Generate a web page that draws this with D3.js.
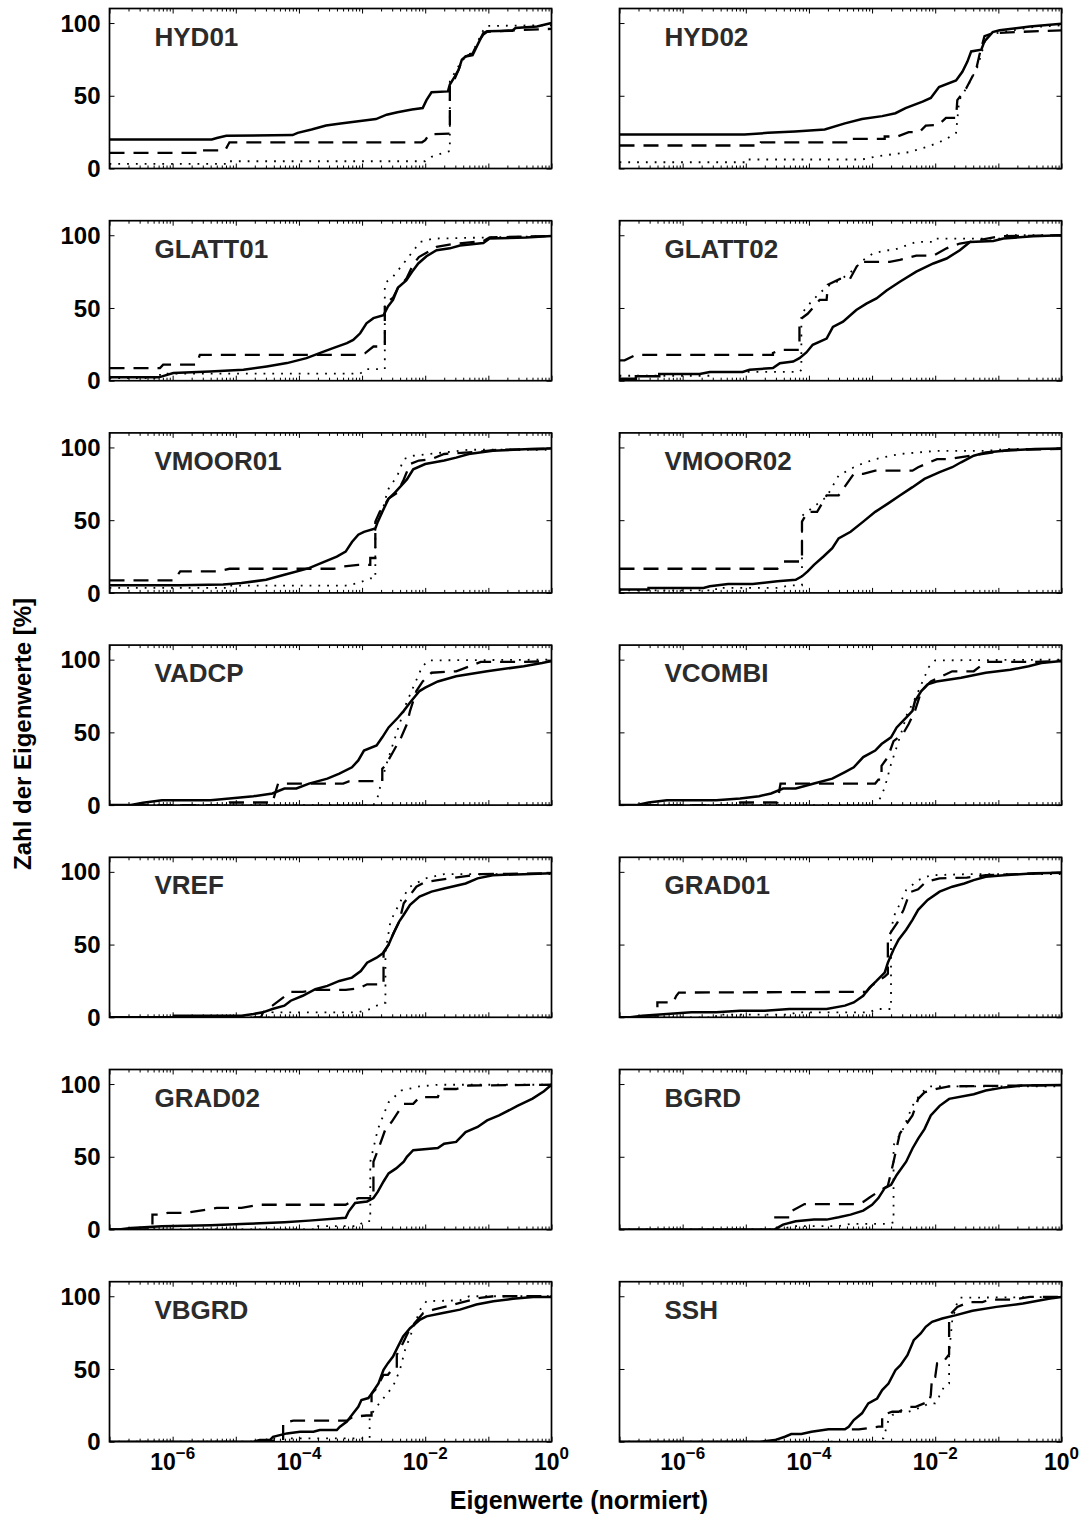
<!DOCTYPE html>
<html>
<head>
<meta charset="utf-8">
<script src="https://cdn.jsdelivr.net/npm/d3@7"></script>
<style>
  body { margin: 0; background: #fff; }
  svg { display: block; }
  text { font-family: "Liberation Sans", Arial, Helvetica, sans-serif; font-weight: bold; }
</style>
</head>
<body>
<svg id="chart" width="1087" height="1526"></svg>
<script>
// Cumulative share of eigenvalues (percent) against normalized eigenvalue.
// Each point is [log10(eigenvalue), percent].

const panelNames = ["HYD01", "HYD02", "GLATT01", "GLATT02", "VMOOR01", "VMOOR02", "VADCP",
  "VCOMBI", "VREF", "GRAD01", "GRAD02", "BGRD", "VBGRD", "SSH"];

const yTicks = [0, 50, 100];
const xLabelExps = [-6, -4, -2, 0];
const xMajorExps = [-7, -6, -5, -4, -3, -2, -1, 0];

const solid = [
  // HYD01
  [[-7,20],[-5.38,20],[-5.3,21],[-5.15,22.5],[-4.1,23],[-4.02,24.5],[-3.8,26.8],[-3.57,29.5],[-3.34,31],[-3.06,32.5],[-2.78,34],[-2.61,37],[-2.44,38.7],[-2.21,40.5],[-2.04,41.6],[-1.98,47],[-1.9,52.4],[-1.64,53],[-1.61,57.7],[-1.53,63.4],[-1.47,68],[-1.42,74.8],[-1.36,77],[-1.25,78],[-1.16,86],[-1.08,93],[-1.02,94.3],[-0.62,94.7],[-0.57,96.6],[-0.23,97.7],[0,100]],
  // HYD02
  [[-7,23.3],[-5.02,23.3],[-4.65,24.5],[-4.22,25.5],[-3.75,26.8],[-3.43,31],[-3.16,34],[-2.84,36],[-2.63,38],[-2.47,41.5],[-2.2,46],[-2.07,48.5],[-1.94,56],[-1.67,60.5],[-1.57,66.5],[-1.49,73.5],[-1.43,80.5],[-1.27,81.7],[-1.22,87.4],[-1.09,93.8],[-0.98,95],[-0.5,97.7],[0,99.5]],
  // GLATT01
  [[-7,2.3],[-6.22,2.3],[-5.99,5.3],[-5.41,6.4],[-4.88,7.5],[-4.51,9.8],[-4.19,12.1],[-3.88,15.5],[-3.61,20],[-3.46,22.4],[-3.24,25.8],[-3.14,28],[-3.03,32.6],[-2.93,39.5],[-2.82,43],[-2.66,45],[-2.59,51],[-2.51,55.5],[-2.43,64],[-2.3,69],[-2.19,76],[-2.11,80.6],[-1.98,85.6],[-1.82,89.7],[-1.61,91],[-1.45,93],[-1.08,94.7],[-0.98,97.7],[-0.4,98.4],[0,99.5]],
  // GLATT02
  [[-7,1.4],[-6.74,1.4],[-6.74,3],[-6.37,3],[-6.37,4.6],[-5.73,4.6],[-5.57,6],[-5.05,6],[-4.94,7.5],[-4.57,8.7],[-4.46,12],[-4.25,13.2],[-4.15,15.5],[-4.04,19.4],[-3.94,24.7],[-3.72,29],[-3.62,37],[-3.46,40.6],[-3.25,48.6],[-3.09,53],[-2.93,56.6],[-2.77,62],[-2.56,68],[-2.3,75],[-2.03,80.6],[-1.82,84],[-1.61,89.7],[-1.45,95.4],[-1.08,96],[-0.92,97.7],[-0.45,99.3],[0,100]],
  // VMOOR01
  [[-7,5.2],[-5.88,5.2],[-5.2,5.7],[-4.91,6.8],[-4.52,9],[-4.23,12.5],[-3.84,17],[-3.65,20.5],[-3.4,25],[-3.26,28.4],[-3.16,35],[-3.06,40],[-2.97,42],[-2.79,44.3],[-2.75,49],[-2.68,55.7],[-2.58,64.8],[-2.48,69],[-2.29,78],[-2.19,85],[-2.0,88.6],[-1.7,91],[-1.51,93],[-1.31,95.5],[-0.93,97.7],[-0.34,99],[0,99.3]],
  // VMOOR02
  [[-7,2.3],[-6.54,2.3],[-6.54,3.4],[-5.67,3.4],[-5.57,4.5],[-5.28,6.1],[-4.89,6.1],[-4.5,8],[-4.21,9],[-4.11,11.4],[-4.02,14.8],[-3.92,19.3],[-3.77,25],[-3.63,30.7],[-3.53,37.5],[-3.34,42],[-3.14,49],[-2.95,55.7],[-2.75,61.4],[-2.56,67],[-2.36,72.7],[-2.17,78.4],[-1.93,83],[-1.73,86.4],[-1.59,89.8],[-1.39,94.3],[-1.2,96.6],[-0.91,97.7],[-0.42,99],[0,99.3]],
  // VADCP
  [[-7,0],[-6.66,0],[-6.47,1.6],[-6.17,3.4],[-5.4,3.4],[-5.1,4.5],[-4.72,6.1],[-4.42,8],[-4.23,11.4],[-4.04,11.4],[-3.84,14.8],[-3.55,18.2],[-3.36,21.6],[-3.16,26],[-3.06,30.7],[-2.97,37.5],[-2.77,41],[-2.68,46.6],[-2.58,53.4],[-2.43,60.2],[-2.34,64.8],[-2.24,70.5],[-2.09,78.4],[-2.0,80.7],[-1.8,85],[-1.51,88.6],[-1.02,92],[-0.44,95.5],[-0.15,97.7],[0,99]],
  // VCOMBI
  [[-7,0],[-6.74,0],[-6.54,1.8],[-6.25,3.4],[-5.47,3.4],[-5.09,4.5],[-4.79,6.1],[-4.6,8],[-4.41,11.4],[-4.21,11.4],[-3.92,14.8],[-3.63,18.2],[-3.43,22.7],[-3.29,26],[-3.14,33],[-2.95,37.5],[-2.85,42],[-2.7,46.6],[-2.61,53.4],[-2.46,60.2],[-2.36,64.8],[-2.32,71.6],[-2.22,78.4],[-2.12,83],[-1.98,85],[-1.59,87.5],[-1.2,91],[-0.81,93],[-0.52,95.5],[-0.32,97.7],[0,99]],
  // VREF
  [[-7,0],[-5.98,0],[-5.98,1.1],[-4.91,1.1],[-4.72,2.3],[-4.57,3.4],[-4.42,5.7],[-4.23,8],[-4.13,11.4],[-3.94,14.8],[-3.74,19.3],[-3.55,21.6],[-3.36,25],[-3.16,27.3],[-3.02,31.8],[-2.92,37.5],[-2.77,41],[-2.66,44.3],[-2.58,50],[-2.5,58],[-2.41,66],[-2.34,70.5],[-2.24,77.3],[-2.09,83],[-1.9,86.4],[-1.7,88.6],[-1.36,92],[-1.17,95.5],[-0.93,97.7],[-0.44,98.4],[0,99]],
  // GRAD01
  [[-7,0],[-6.83,0],[-6.64,1.1],[-6.25,2.3],[-5.86,3.4],[-5.47,3.4],[-5.09,4.5],[-4.7,4.5],[-4.31,5.7],[-3.72,5.7],[-3.43,8],[-3.29,10.2],[-3.14,14.8],[-3.04,20.5],[-2.93,25],[-2.8,30.7],[-2.75,37.5],[-2.66,46.6],[-2.58,53.4],[-2.46,60.2],[-2.36,67],[-2.27,73.9],[-2.12,80.7],[-1.93,86.4],[-1.73,89.8],[-1.54,92],[-1.39,94.3],[-1.2,96.6],[-0.91,97.7],[-0.42,99],[0,99.3]],
  // GRAD02
  [[-7,0],[-6.85,0],[-6.66,1.1],[-6.17,2.3],[-5.4,3],[-4.81,3.9],[-4.23,5],[-3.84,6.1],[-3.26,8],[-3.21,12.5],[-3.11,18.2],[-2.92,19.3],[-2.82,21.6],[-2.75,26],[-2.66,33],[-2.58,38.6],[-2.46,42],[-2.34,46.6],[-2.29,50],[-2.19,54.5],[-1.8,56],[-1.7,59],[-1.51,60.2],[-1.36,67],[-1.17,70.5],[-1.02,75],[-0.83,78.4],[-0.54,85],[-0.3,90],[-0.12,95],[0,99.5]],
  // BGRD
  [[-7,0],[-4.55,0],[-4.5,1.1],[-4.41,3.4],[-4.21,5.7],[-3.92,6.8],[-3.72,6.8],[-3.53,8.4],[-3.34,10.2],[-3.14,13],[-3.0,17],[-2.9,21.6],[-2.8,28.4],[-2.7,30.7],[-2.61,37.5],[-2.46,46.6],[-2.36,55.7],[-2.27,62.5],[-2.17,69],[-2.07,78.4],[-1.93,85],[-1.78,89.8],[-1.39,93],[-1.2,95.5],[-0.91,97.7],[-0.62,99],[0,99.3]],
  // VBGRD
  [[-7,0],[-4.72,0],[-4.62,1.1],[-4.46,1.1],[-4.41,3.4],[-4.19,5.7],[-3.98,6.9],[-3.77,6.9],[-3.67,8],[-3.4,8],[-3.35,10.3],[-3.24,13.8],[-3.14,19.5],[-3.06,24],[-3.01,28.7],[-2.9,30],[-2.85,33],[-2.74,40],[-2.66,49.4],[-2.59,54],[-2.51,58.6],[-2.43,65.5],[-2.35,72.4],[-2.24,78],[-2.08,84],[-1.98,86.2],[-1.72,88.5],[-1.45,90.8],[-1.19,94.3],[-0.92,96.6],[-0.61,98.2],[-0.29,99.5],[0,99.5]],
  // SSH
  [[-7,0],[-4.76,0],[-4.54,1.1],[-4.38,3.4],[-4.28,5.3],[-4.12,5.3],[-3.96,6.9],[-3.69,8.5],[-3.43,8.5],[-3.37,10.3],[-3.29,14.9],[-3.16,19.5],[-3.06,26.3],[-2.92,29.7],[-2.84,35.5],[-2.74,40],[-2.63,49.2],[-2.55,52.6],[-2.44,59.5],[-2.34,69.8],[-2.23,74.4],[-2.15,79],[-2.05,82.4],[-1.89,84.7],[-1.67,87],[-1.41,90],[-1.03,92.7],[-0.61,95],[-0.18,98.4],[0,99.5]]
];

const dashed = [
  // HYD01
  [[-7,10.8],[-5.5,10.8],[-5.5,12.4],[-5.17,12.4],[-5.1,18],[-2.05,18],[-2.0,19.5],[-1.94,23.5],[-1.61,24],[-1.61,58],[-1.53,62],[-1.47,68],[-1.42,74],[-1.36,77],[-1.25,79],[-1.16,87],[-1.08,92],[-1.02,94],[-0.6,95],[0,96]],
  // HYD02
  [[-7,15.8],[-4.76,15.8],[-4.76,18],[-3.32,18],[-3.32,20.4],[-2.8,20.4],[-2.8,22],[-2.6,22],[-2.42,25],[-2.25,25],[-2.15,29.5],[-1.95,30],[-1.83,34.8],[-1.67,34.8],[-1.65,47],[-1.51,55],[-1.35,68.4],[-1.3,78],[-1.22,91],[-1.09,93],[-0.6,94],[0,95]],
  // GLATT01
  [[-7,8.7],[-6.2,8.7],[-6.15,11],[-5.62,11],[-5.57,17.8],[-3.03,17.8],[-2.95,19],[-2.82,23.5],[-2.64,23.5],[-2.64,53],[-2.51,57],[-2.43,64],[-2.3,70],[-2.19,80],[-2.1,85],[-1.98,88],[-1.82,92],[-1.56,94],[-1.08,96],[-0.98,98.5],[0,99.5]],
  // GLATT02
  [[-7,14],[-6.92,14],[-6.74,17.8],[-4.57,17.8],[-4.57,19],[-4.46,21.2],[-4.15,21.2],[-4.15,41.8],[-4.02,46],[-3.83,55.5],[-3.72,55.5],[-3.7,66],[-3.51,70],[-3.35,70],[-3.25,78],[-3.2,81.7],[-2.72,81.7],[-2.56,83],[-2.3,86],[-2.03,86],[-1.82,91],[-1.61,94.3],[-1.45,95.4],[-0.98,99.3],[0,100]],
  // VMOOR01
  [[-7,8.6],[-5.98,8.6],[-5.88,14.8],[-5.3,14.8],[-5.1,16.6],[-3.45,16.6],[-3.3,18.2],[-3.06,19.3],[-2.87,19.3],[-2.87,24],[-2.79,24],[-2.79,49],[-2.72,55.7],[-2.58,64.8],[-2.44,69],[-2.34,78],[-2.24,88.6],[-2.1,91],[-1.9,92],[-1.7,95.5],[-1.31,96.6],[-0.83,98.4],[0,99]],
  // VMOOR02
  [[-7,16.6],[-4.5,16.6],[-4.45,18.2],[-4.4,21.6],[-4.11,21.6],[-4.11,49],[-4.02,55.7],[-3.87,55.7],[-3.72,67],[-3.53,67],[-3.29,81.8],[-3.14,81.8],[-2.95,84],[-2.36,84],[-2.27,86.4],[-1.97,92],[-1.78,92],[-0.81,98.4],[0,99]],
  // VADCP
  [[-7,0],[-5.2,0],[-5.1,1.8],[-4.42,1.8],[-4.33,14.8],[-3.3,14.8],[-3.2,16.5],[-2.68,16.5],[-2.68,25],[-2.63,27.3],[-2.53,35],[-2.38,46.6],[-2.29,55.7],[-2.24,64.8],[-2.14,78.4],[-2.04,85],[-1.9,91],[-1.51,92],[-1.12,98.4],[-0.44,98.4],[0,99]],
  // VCOMBI
  [[-7,0],[-5.2,0],[-5.09,1.8],[-4.5,1.8],[-4.45,14.8],[-2.95,14.8],[-2.9,17.5],[-2.85,17.5],[-2.85,27],[-2.75,33],[-2.66,44],[-2.51,49],[-2.42,55.7],[-2.32,64.8],[-2.22,78.4],[-2.07,85],[-1.73,92],[-1.39,92],[-1.2,98.4],[-0.52,98.4],[0,99]],
  // VREF
  [[-7,0],[-4.6,0],[-4.57,3.4],[-4.42,8],[-4.13,17.5],[-3.94,17.5],[-3.74,18.9],[-3.26,18.9],[-3.06,19.8],[-2.92,22.7],[-2.66,22.7],[-2.66,45],[-2.58,50],[-2.5,58],[-2.41,66],[-2.34,78.4],[-2.14,89.8],[-2.0,93],[-1.8,94.3],[-1.12,98.4],[0,99]],
  // GRAD01
  [[-7,0],[-6.4,0],[-6.4,10.2],[-6.15,10.2],[-6.1,14.8],[-6.06,17],[-3.09,17.5],[-3.0,22],[-2.8,28],[-2.75,30],[-2.75,55],[-2.68,60],[-2.6,65],[-2.5,74],[-2.4,86],[-2.27,88],[-2.15,93],[-1.93,95.5],[-1.5,96],[-1.2,97.7],[0,99.5]],
  // GRAD02
  [[-7,0],[-6.32,0],[-6.32,10.2],[-6.17,10.2],[-6.08,11.4],[-5.79,11.4],[-5.3,14.8],[-4.91,14.8],[-4.62,17],[-3.26,17],[-3.21,18.2],[-3.06,21.6],[-2.82,21.6],[-2.82,46.6],[-2.72,58],[-2.63,69],[-2.53,74],[-2.43,80.7],[-2.34,86.4],[-2.19,86.4],[-2.09,91],[-1.8,91],[-1.75,96.6],[-1.51,96.6],[-1.31,99],[0,99.5]],
  // BGRD
  [[-4.55,8.4],[-4.3,8.4],[-4.3,12],[-4.07,17.5],[-3.24,17.5],[-3.14,19],[-3.04,22],[-2.9,26],[-2.75,30],[-2.66,46.6],[-2.56,66],[-2.36,78.4],[-2.27,89.8],[-2.17,94.3],[-1.98,96.6],[-1.78,98.4],[0,99.3]],
  // VBGRD
  [[-4.62,0.7],[-4.25,0.7],[-4.25,12.6],[-4.09,14.5],[-3.24,14.5],[-3.14,17.2],[-2.93,18],[-2.85,18],[-2.85,33],[-2.77,36.8],[-2.66,46],[-2.59,46],[-2.51,50.6],[-2.45,50.6],[-2.45,59.8],[-2.35,68],[-2.24,78],[-2.03,88.5],[-1.87,90.8],[-1.66,93],[-1.45,95.4],[-1.13,98.9],[-0.92,100],[0,100]],
  // SSH
  [[-3.32,8.5],[-3.21,8.5],[-2.9,10.3],[-2.84,10.3],[-2.84,18.3],[-2.68,20.6],[-2.58,20.6],[-2.42,24],[-2.31,24],[-2.15,26.8],[-2.1,26.8],[-2.07,32],[-2.05,44.6],[-2.0,44.6],[-1.97,53.8],[-1.89,53.8],[-1.78,60],[-1.78,83.5],[-1.75,88],[-1.65,92.7],[-1.46,96],[-1.25,96],[-1.14,97.7],[-0.77,97.7],[-0.5,99.5],[0,99.5]]
];

const dotted = [
  // HYD01
  [[-7,3.2],[-5.15,3.2],[-5.15,5],[-2.0,5],[-1.9,8],[-1.7,11],[-1.61,12],[-1.61,60],[-1.53,66],[-1.45,72],[-1.36,77],[-1.25,80],[-1.16,88],[-1.08,95],[-1.02,98],[0,98.5]],
  // HYD02
  [[-7,4.3],[-5.02,4.3],[-5.02,6.2],[-3.16,6.2],[-2.9,8.5],[-2.42,11.2],[-2.1,15.3],[-1.83,20],[-1.67,24.5],[-1.62,47],[-1.46,58.8],[-1.33,70],[-1.25,81.7],[-1.19,91],[-1.04,93],[-0.5,97],[0,98.5]],
  // GLATT01
  [[-7,1.8],[-6.2,1.8],[-6.2,4.8],[-3.03,4.8],[-2.95,8],[-2.64,8],[-2.64,67],[-2.51,71.5],[-2.3,83],[-2.08,95.4],[-1.87,97.7],[-0.98,98.5],[0,99.5]],
  // GLATT02
  [[-7,3.4],[-5.57,3.4],[-5.57,6],[-4.15,6],[-4.12,7.5],[-4.12,46],[-3.94,55.5],[-3.72,64.6],[-3.51,69],[-3.3,76],[-3.14,83],[-2.98,87.6],[-2.77,89.7],[-2.67,89.7],[-2.3,95.4],[-2.03,95.4],[-2.0,97.7],[-0.98,97.7],[-0.9,100],[0,100]],
  // VMOOR01
  [[-7,3.4],[-5.1,3.4],[-5.1,5],[-3.26,5],[-3.06,6.8],[-2.87,10],[-2.79,10],[-2.79,46.6],[-2.68,55.7],[-2.63,64.8],[-2.58,71.6],[-2.44,80.7],[-2.34,92],[-2.19,94.3],[-1.7,96.6],[-1.31,98.4],[0,98.4]],
  // VMOOR02
  [[-7,1.8],[-5.47,1.8],[-5.47,3.4],[-4.5,3.4],[-4.3,5.2],[-4.11,5.2],[-4.11,53],[-3.72,66],[-3.53,80.7],[-3.24,87.5],[-2.95,92],[-2.56,95.5],[-1.97,97.7],[-1.2,97.7],[-0.81,99],[0,99]],
  // VADCP
  [[-7,0],[-2.82,0],[-2.75,6],[-2.7,15],[-2.6,30],[-2.45,50],[-2.3,70],[-2.15,85],[-2.05,95],[-1.95,99.5],[0,100]],
  // VCOMBI
  [[-7,0],[-2.92,0],[-2.8,12],[-2.7,28],[-2.55,48],[-2.45,62],[-2.3,75],[-2.2,85],[-2.1,95],[-2.0,99.5],[0,100]],
  // VREF
  [[-7,0],[-4.42,0],[-4.42,3.4],[-3.06,3.4],[-2.87,5.7],[-2.68,10],[-2.63,10],[-2.63,45],[-2.55,66],[-2.38,80.7],[-2.24,89.8],[-2.0,95.5],[-1.7,98.4],[0,98.4]],
  // GRAD01
  [[-7,0],[-5.47,0],[-5.47,1.8],[-4.31,1.8],[-4.2,3.4],[-3.04,3.4],[-2.93,5.7],[-2.7,5.7],[-2.7,58],[-2.66,69],[-2.56,78],[-2.46,87.5],[-2.27,94.3],[-2.07,97.7],[-1.5,98.4],[0,98.4]],
  // GRAD02
  [[-7,0],[-3.74,0],[-3.74,2.3],[-3.06,2.3],[-2.97,5.7],[-2.87,5.7],[-2.87,46.6],[-2.75,69],[-2.58,87.5],[-2.38,95.5],[-2.09,98.4],[-1.8,99.5],[0,99.5]],
  // BGRD
  [[-7,0],[-4.5,0],[-4.21,2.3],[-3.53,2.3],[-3.34,3.9],[-2.75,3.9],[-2.66,5],[-2.66,58],[-2.51,69],[-2.36,85],[-2.22,94.3],[-2.07,98.4],[0,98.4]],
  // VBGRD
  [[-7,0],[-4.51,0],[-4.51,2.3],[-2.88,2.3],[-2.88,17.2],[-2.77,24],[-2.51,38],[-2.4,49.4],[-2.32,63],[-2.19,78],[-2.08,90.8],[-1.98,96.6],[-1.45,97.2],[-1.3,100],[0,100]],
  // SSH
  [[-7,0],[-2.95,0],[-2.9,2.3],[-2.82,2.3],[-2.74,15],[-2.68,18.3],[-2.58,20.6],[-2.42,20.6],[-2.2,24],[-2.1,26.3],[-2.0,26.3],[-1.94,31],[-1.86,37.8],[-1.78,40],[-1.78,60.6],[-1.73,83.5],[-1.65,96],[-1.6,99],[0,99.5]]
];

// ---- layout ----
const svg = d3.select("#chart");
const colLeft = [109.5, 619.5];
const panelW = 442, panelH = 160;
const rowTop0 = 8.5, rowStep = 212.2;
const nRows = 7;

const x = d3.scaleLog().domain([1e-7, 1]).range([0, panelW]);
const y = d3.scaleLinear().domain([0, 110]).range([panelH, 0]);

const line = d3.line()
  .x(d => x(Math.pow(10, d[0])))
  .y(d => y(d[1]));

const majorTicks = xMajorExps.map(e => Math.pow(10, e));
const minorTicks = [];
for (let e = -7; e < 0; e++) for (let k = 2; k <= 9; k++) minorTicks.push(k * Math.pow(10, e));

const seriesStyles = [
  { data: dotted, width: 1.8, dash: "1.8,7" },
  { data: dashed, width: 2.3, dash: "15,9" },
  { data: solid,  width: 2.5, dash: null }
];

panelNames.forEach((name, i) => {
  const row = Math.floor(i / 2), col = i % 2;
  const left = colLeft[col], top = rowTop0 + row * rowStep;
  const g = svg.append("g").attr("transform", `translate(${left},${top})`);

  const clipId = "clip" + i;
  g.append("clipPath").attr("id", clipId)
    .append("rect").attr("x", 0).attr("y", -1).attr("width", panelW + 1).attr("height", panelH + 1);

  const lines = g.append("g").attr("clip-path", `url(#${clipId})`);
  seriesStyles.forEach(s => {
    lines.append("path")
      .attr("d", line(s.data[i]))
      .attr("fill", "none")
      .attr("stroke", "#000")
      .attr("stroke-width", s.width)
      .attr("stroke-dasharray", s.dash);
  });

  // inward ticks on all four sides
  const noLabel = () => "";
  const addAxis = (axis, tx, ty) => {
    g.append("g").attr("transform", `translate(${tx},${ty})`)
      .call(axis)
      .call(a => a.select(".domain").remove())
      .call(a => a.selectAll("line").attr("stroke", "#000").attr("stroke-width", 1));
  };
  addAxis(d3.axisBottom(x).tickValues(majorTicks).tickSize(-5).tickFormat(noLabel), 0, panelH);
  addAxis(d3.axisBottom(x).tickValues(minorTicks).tickSize(-3).tickFormat(noLabel), 0, panelH);
  addAxis(d3.axisTop(x).tickValues(majorTicks).tickSize(-5).tickFormat(noLabel), 0, 0);
  addAxis(d3.axisTop(x).tickValues(minorTicks).tickSize(-3).tickFormat(noLabel), 0, 0);
  addAxis(d3.axisLeft(y).tickValues(yTicks).tickSize(-5).tickFormat(noLabel), 0, 0);
  addAxis(d3.axisRight(y).tickValues(yTicks).tickSize(-5).tickFormat(noLabel), panelW, 0);

  // frame
  g.append("rect")
    .attr("width", panelW).attr("height", panelH)
    .attr("fill", "none").attr("stroke", "#000").attr("stroke-width", 1.7);

  // panel name
  g.append("text")
    .attr("x", 45).attr("y", 37)
    .attr("fill", "#2b2b2b")
    .style("font-size", "26px")
    .text(name);

  // y tick labels on the left column
  if (col === 0) {
    yTicks.forEach(v => {
      g.append("text")
        .attr("x", -9).attr("y", y(v))
        .attr("dy", "0.36em")
        .attr("text-anchor", "end")
        .style("font-size", "24px")
        .text(v);
    });
  }

  // x tick labels on the bottom row
  if (row === nRows - 1) {
    xLabelExps.forEach(e => {
      const t = g.append("text")
        .attr("x", x(Math.pow(10, e)))
        .attr("y", panelH + 28)
        .attr("text-anchor", "middle")
        .style("font-size", "23px");
      t.append("tspan").text("10");
      t.append("tspan").attr("dy", -11).style("font-size", "17px")
        .text(e === 0 ? "0" : "\u2212" + (-e));
    });
  }
});

// axis titles
svg.append("text")
  .attr("transform", "translate(31,734) rotate(-90)")
  .attr("text-anchor", "middle")
  .style("font-size", "24px")
  .text("Zahl der Eigenwerte [%]");

svg.append("text")
  .attr("x", 579).attr("y", 1509)
  .attr("text-anchor", "middle")
  .style("font-size", "25px")
  .text("Eigenwerte (normiert)");
</script>
</body>
</html>
